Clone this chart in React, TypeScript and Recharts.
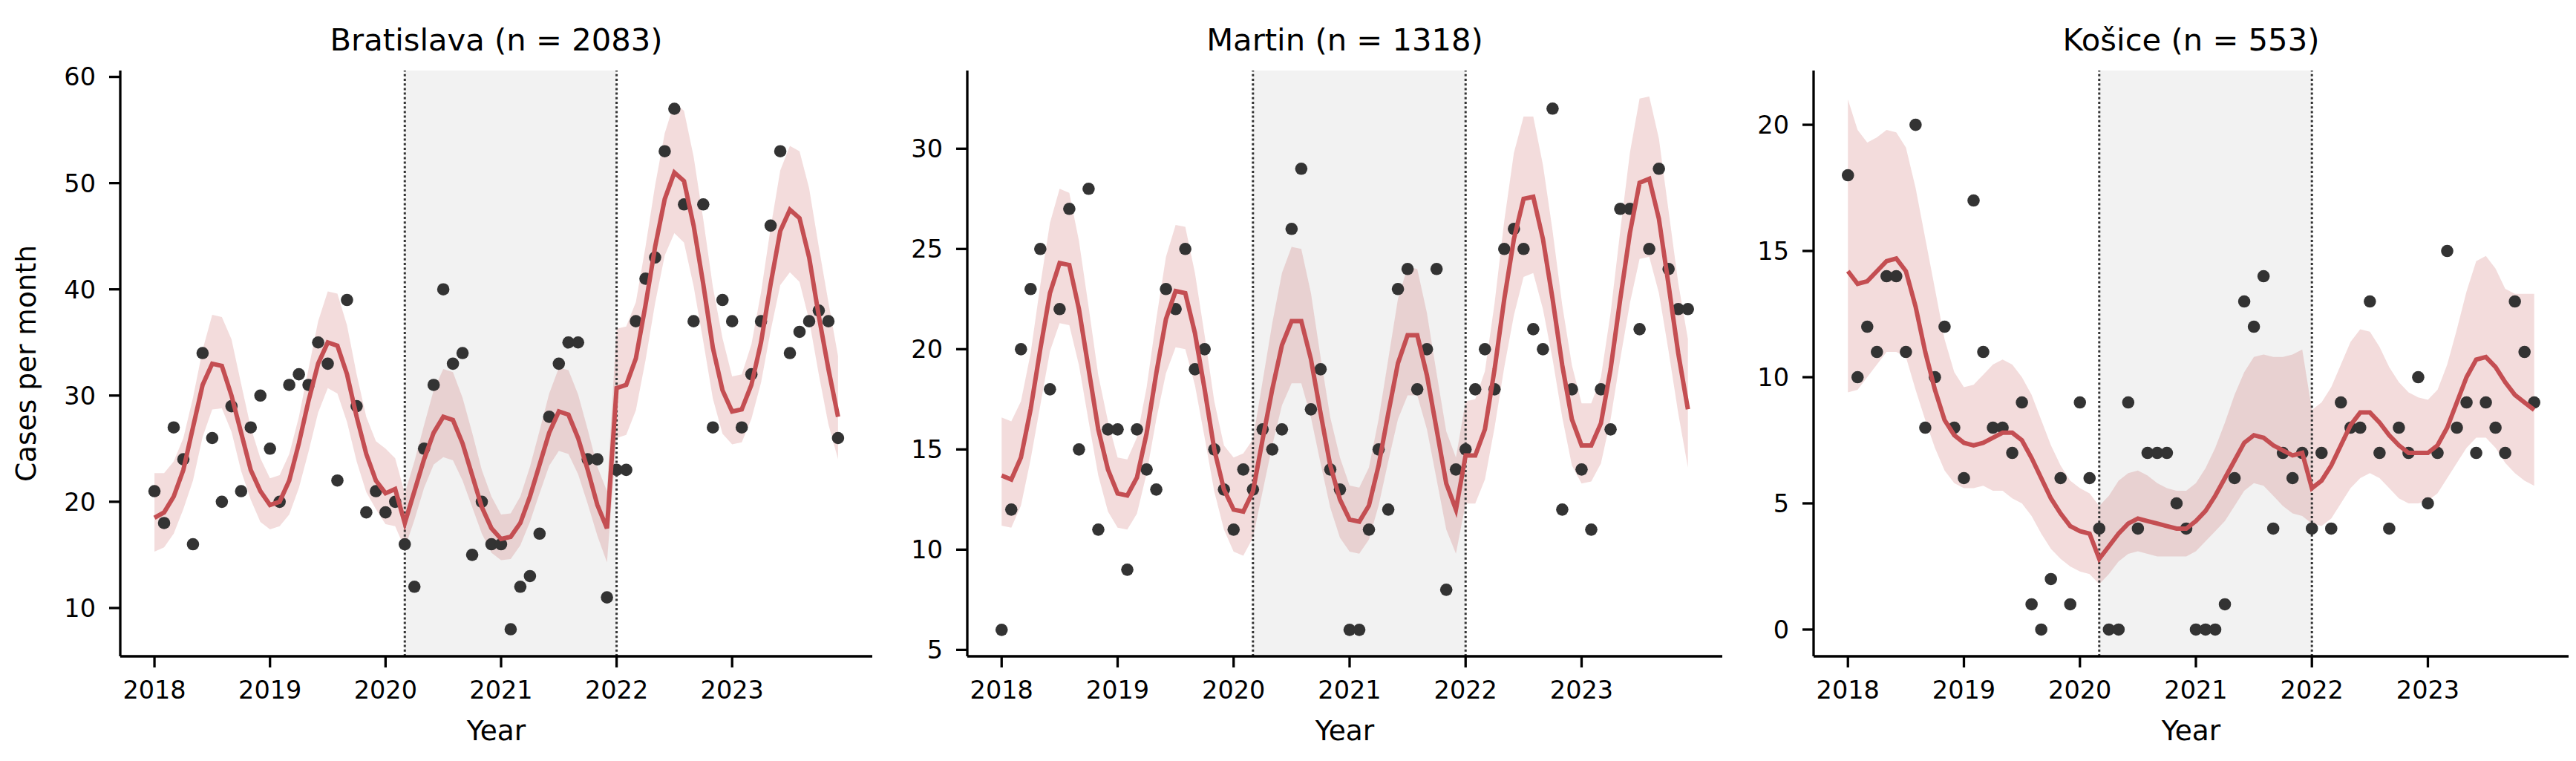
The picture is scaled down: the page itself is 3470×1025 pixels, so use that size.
import React from 'react';
import {
  ComposedChart,
  XAxis,
  YAxis,
  Line,
  Area,
  Scatter,
  ReferenceArea,
  ReferenceLine,
  Label,
} from 'recharts';

const FONT = '"DejaVu Sans", Verdana, sans-serif';
const RED = '#C44E52';

// categories: monthly observations Jan 2018 .. Dec 2023
const years = [2018, 2019, 2020, 2021, 2022, 2023];
const monthsOfYear = [0, 1, 2, 3, 4, 5, 6, 7, 8, 9, 10, 11];
const monthPositions = years.flatMap((y) => monthsOfYear.map((m) => y + m / 12));
const covidStart = 2020 + 2 / 12;
const covidEnd = 2022;

// ---- Bratislava ----
const bratislavaObs = [
  21, 18, 27, 24, 16, 34, 26, 20, 29, 21, 27, 30,
  25, 20, 31, 32, 31, 35, 33, 22, 39, 29, 19, 21,
  19, 20, 16, 12, 25, 31, 40, 33, 34, 15, 20, 16,
  16, 8, 12, 13, 17, 28, 33, 35, 35, 24, 24, 11,
  23, 23, 37, 41, 43, 53, 57, 48, 37, 48, 27, 39,
  37, 27, 32, 37, 46, 53, 34, 36, 37, 38, 37, 26,
];
const bratislavaFit = [
  18.5, 19, 20.5, 23, 27, 31, 33, 32.8, 30, 26.5, 23, 21,
  19.7, 20, 22, 25.5, 29.5, 33, 35, 34.7, 32, 28, 24.5, 22,
  20.8, 21.2, 18, 21, 24, 26.5, 28, 27.7, 25.5, 22.5, 19.5, 17.5,
  16.5, 16.7, 18, 20.5, 23.5, 26.5, 28.5, 28.2, 26, 23, 19.7, 17.5,
  30.7, 31, 33.5, 38.5, 44, 48.5, 51, 50.2, 46, 40.5, 34.5, 30.5,
  28.5, 28.7, 31, 35, 40.5, 45.5, 47.5, 46.7, 43, 37.5, 32.5, 28,
];
const bratislavaLow = [
  15.3, 15.7, 17, 19.3, 22, 26.1, 28.7, 28.8, 26.6, 22.9, 20.2, 18.1,
  17.4, 17.7, 18.8, 21.3, 24.7, 28.4, 30.7, 30.2, 27.5, 23.8, 20.9, 19.3,
  17.9, 17.7, 15.6, 18.3, 21.3, 23.5, 24.2, 23.9, 22, 19.5, 17, 15.2,
  14.5, 14.6, 15.9, 18.1, 20.8, 23.4, 24.8, 24.5, 22.6, 19.8, 16.8, 14.3,
  26, 26.3, 28.6, 33.3, 38.7, 43.2, 45.3, 44.4, 40.3, 35.1, 29.7, 26.4,
  25.4, 25.6, 27.8, 31.2, 36.1, 40.4, 41.6, 40.7, 37.1, 32, 27.3, 24,
];
const bratislavaHigh = [
  22.7, 22.7, 23.8, 26, 29.8, 34.3, 37.6, 37.4, 35.3, 31.1, 27, 24.1,
  22.2, 22.5, 24.5, 28, 32.5, 37, 39.8, 39.6, 36.6, 32, 28, 25.7,
  25, 24.1, 20.8, 23.8, 27.2, 30.5, 32.5, 32.2, 29.8, 26.5, 23, 20.5,
  18.8, 18.9, 20.5, 23.3, 26.7, 30.2, 32.6, 32.4, 30.1, 26.8, 23.3, 21,
  36.3, 36.5, 38.8, 44, 49.8, 54.7, 57.6, 56.8, 52.5, 46.6, 40.2, 35.4,
  31.8, 32, 34.8, 39.7, 45.8, 51.2, 53.5, 53, 49.5, 44, 38.8, 33.7,
];

// ---- Martin ----
const martinObs = [
  6, 12, 20, 23, 25, 18, 22, 27, 15, 28, 11, 16,
  16, 9, 16, 14, 13, 23, 22, 25, 19, 20, 15, 13,
  11, 14, 13, 16, 15, 16, 26, 29, 17, 19, 14, 13,
  6, 6, 11, 15, 12, 23, 24, 18, 20, 24, 8, 14,
  15, 18, 20, 18, 25, 26, 25, 21, 20, 32, 12, 18,
  14, 11, 18, 16, 27, 27, 21, 25, 29, 24, 22, 22,
];
const martinFit = [
  13.7, 13.5, 14.6, 17, 20, 22.8, 24.3, 24.2, 22, 19, 16, 14,
  12.8, 12.7, 13.6, 15.8, 18.8, 21.5, 22.9, 22.8, 20.8, 18, 15, 13,
  12, 11.9, 12.9, 15.5, 18, 20.2, 21.4, 21.4, 19.5, 16.8, 14.2, 12.5,
  11.5, 11.4, 12.2, 14.2, 16.8, 19.3, 20.7, 20.7, 18.7, 16, 13.3, 12,
  14.7, 14.7, 16, 19, 22.5, 25.5, 27.5, 27.6, 25.5, 22.5, 19.2, 16.5,
  15.2, 15.2, 16.3, 19, 22.5, 25.8, 28.3, 28.5, 26.5, 23.2, 19.8, 17,
];
const martinLow = [
  11.2, 11.1, 12.2, 14.5, 17.2, 19.9, 21.3, 21.2, 19.2, 16.4, 13.7, 11.9,
  11.1, 11, 11.8, 13.8, 16.5, 18.8, 20.1, 20, 18.2, 15.6, 12.9, 11,
  9.9, 9.7, 10.6, 12.9, 15.2, 17.2, 18.3, 18.3, 16.6, 14.3, 12.1, 10.6,
  9.9, 9.8, 10.5, 12.2, 14.4, 16.5, 17.7, 17.7, 16, 13.5, 11, 9.8,
  12.3, 12.3, 13.5, 16.1, 19.1, 21.7, 23.6, 23.8, 22, 19.5, 16.6, 14.2,
  13.3, 13.4, 14.3, 16.5, 19.5, 22.3, 24.5, 24.6, 22.8, 19.9, 16.8, 14.1,
];
const martinHigh = [
  16.6, 16.4, 17.4, 19.8, 23.2, 26.3, 28, 27.8, 25.4, 22.1, 18.7, 16.4,
  14.6, 14.5, 15.6, 18.1, 21.5, 24.6, 26.2, 26.1, 23.8, 20.7, 17.4, 15.2,
  14.6, 14.8, 15.5, 18.4, 21.3, 23.8, 25.1, 25, 22.8, 19.6, 16.6, 14.6,
  13.2, 13.1, 14.1, 16.5, 19.5, 22.5, 24.1, 24, 21.8, 18.8, 15.9, 14.6,
  17.4, 17.5, 18.9, 22.3, 26.4, 29.8, 31.6, 31.6, 29.2, 25.9, 22.2, 19.2,
  17.3, 17.3, 18.6, 21.8, 25.9, 29.8, 32.5, 32.6, 30.5, 26.9, 23.3, 20.5,
];

// ---- Košice ----
const kosiceObs = [
  18, 10, 12, 11, 14, 14, 11, 20, 8, 10, 12, 8,
  6, 17, 11, 8, 8, 7, 9, 1, 0, 2, 6, 1,
  9, 6, 4, 0, 0, 9, 4, 7, 7, 7, 5, 4,
  0, 0, 0, 1, 6, 13, 12, 14, 4, 7, 6, 7,
  4, 7, 4, 9, 8, 8, 13, 7, 4, 8, 7, 10,
  5, 7, 15, 8, 9, 7, 9, 8, 7, 13, 11, 9,
];
const kosiceFit = [
  14.2, 13.7, 13.8, 14.2, 14.6, 14.7, 14.2, 12.8, 11, 9.5, 8.3, 7.7,
  7.4, 7.3, 7.4, 7.6, 7.8, 7.8, 7.5, 6.8, 6, 5.2, 4.6, 4.1,
  3.9, 3.8, 2.8, 3.3, 3.8, 4.2, 4.4, 4.3, 4.2, 4.1, 4, 4,
  4.3, 4.7, 5.3, 6, 6.7, 7.4, 7.7, 7.6, 7.3, 7.1, 6.9, 7,
  5.6, 5.9, 6.5, 7.3, 8.1, 8.6, 8.6, 8.2, 7.7, 7.3, 7, 7,
  7, 7.3, 8, 9, 10, 10.7, 10.8, 10.4, 9.8, 9.3, 9, 8.7,
];
const kosiceLow = [
  9.4, 9.5, 10, 10.5, 11, 11, 10.8, 9.5, 8.3, 7.2, 6.3, 5.8,
  5.6, 5.6, 5.7, 5.5, 5.5, 5.2, 5, 4.5, 3.8, 3.2, 2.8, 2.5,
  2.3, 2.2, 1.8, 2.2, 2.7, 3, 3.1, 3, 2.9, 2.9, 2.9, 2.9,
  3.1, 3.5, 3.9, 4.3, 4.9, 5.5, 5.8, 5.7, 5.3, 4.9, 4.6, 4.5,
  4.2, 4.1, 4.4, 5, 5.6, 6, 6.2, 6, 5.6, 5.2, 5, 5,
  5.1, 5.4, 6, 6.6, 7.2, 7.6, 7.6, 7.2, 6.6, 6.2, 5.9, 5.7,
];
const kosiceHigh = [
  21, 19.8, 19.3, 19.5, 19.8, 19.7, 19.1, 17.5, 15.5, 13.5, 11.5, 10.2,
  9.6, 9.7, 10.1, 10.5, 10.7, 10.5, 10, 9.3, 8.3, 7.3, 6.5, 5.9,
  5.6, 5.4, 4.9, 5.3, 5.9, 6.2, 6.3, 6.1, 5.8, 5.6, 5.5, 5.5,
  5.8, 6.4, 7.2, 8.2, 9.3, 10.2, 10.8, 10.9, 10.8, 10.8, 10.9, 11.1,
  8.7, 9, 9.6, 10.5, 11.4, 11.9, 11.8, 11.2, 10.4, 9.8, 9.4, 9.2,
  9.1, 9.5, 10.5, 11.9, 13.4, 14.6, 14.8, 14.3, 13.5, 13.3, 13.3, 13.3,
];

// tick labels
const bratislavaTicks = [10, 20, 30, 40, 50, 60];
const martinTicks = [5, 10, 15, 20, 25, 30];
const kosiceTicks = [0, 5, 10, 15, 20];

function buildRows(obs: number[], fit: number[], low: number[], high: number[]) {
  return monthPositions.map((x, i) => ({ x, obs: obs[i], fit: fit[i], band: [low[i], high[i]] }));
}

const CHART_H = 1025;
const TOP = 95;
const PLOT_BOTTOM = 884;
const RIGHT_PAD = 10;

const DotShape = (props: any) => {
  if (props.cx == null || props.cy == null) return null;
  return <circle cx={props.cx} cy={props.cy} r={8.3} fill="#333333" />;
};

type PanelProps = {
  left: number;
  width: number;
  axisWidth: number;
  title: string;
  rows: any[];
  domain: [number, number];
  ticks: number[];
  yLabel?: string;
};

function Panel({ left, width, axisWidth, title, rows, domain, ticks, yLabel }: PanelProps) {
  const plotW = width - RIGHT_PAD - axisWidth;
  const centerX = axisWidth + plotW / 2;
  const axisStyle = { stroke: '#000', strokeWidth: 3.3 };
  const tickStyle = { fontSize: 33.5, fill: '#000', fontFamily: FONT };
  return (
    <div style={{ position: 'absolute', left, top: 0, width, height: CHART_H }}>
      <div
        style={{
          position: 'absolute',
          left: axisWidth,
          width: plotW,
          top: 33,
          textAlign: 'center',
          fontFamily: FONT,
          fontSize: 41.7,
          lineHeight: 1,
          color: '#000',
          whiteSpace: 'nowrap',
        }}
      >
        {title}
      </div>
      <ComposedChart
        width={width}
        height={CHART_H}
        data={rows}
        margin={{ top: TOP, right: RIGHT_PAD, bottom: 0, left: 0 }}
      >
        <ReferenceArea
          x1={covidStart}
          x2={covidEnd}
          fill="#808080"
          fillOpacity={0.1}
          stroke="none"
          ifOverflow="visible"
        />
        <Area
          dataKey="band"
          type="linear"
          stroke="none"
          fill={RED}
          fillOpacity={0.2}
          activeDot={false}
          isAnimationActive={false}
        />
        <ReferenceLine x={covidStart} stroke="#333" strokeWidth={3} strokeDasharray="3 3.2" />
        <ReferenceLine x={covidEnd} stroke="#333" strokeWidth={3} strokeDasharray="3 3.2" />
        <Scatter dataKey="obs" shape={DotShape} isAnimationActive={false} />
        <Line
          dataKey="fit"
          type="linear"
          stroke={RED}
          strokeWidth={6}
          dot={false}
          activeDot={false}
          isAnimationActive={false}
          zIndex={700}
        />
        <XAxis
          dataKey="x"
          type="number"
          domain={[2017.704, 2024.213]}
          ticks={years}
          allowDataOverflow
          interval={0}
          height={CHART_H - PLOT_BOTTOM}
          tickSize={15}
          tickMargin={18}
          axisLine={axisStyle}
          tickLine={axisStyle}
          tick={tickStyle}
        >
          <Label
            content={() => (
              <text x={centerX} y={997} textAnchor="middle" fontSize={37.5} fontFamily={FONT} fill="#000">
                Year
              </text>
            )}
          />
        </XAxis>
        <YAxis
          type="number"
          domain={domain}
          ticks={ticks}
          allowDataOverflow
          interval={0}
          width={axisWidth}
          tickSize={15}
          tickMargin={18}
          axisLine={axisStyle}
          tickLine={axisStyle}
          tick={tickStyle}
        >
          {yLabel ? (
            <Label
              content={() => (
                <text
                  x={0}
                  y={0}
                  transform={`translate(48, ${(TOP + PLOT_BOTTOM) / 2}) rotate(-90)`}
                  textAnchor="middle"
                  fontSize={37.5}
                  fontFamily={FONT}
                  fill="#000"
                >
                  {yLabel}
                </text>
              )}
            />
          ) : null}
        </YAxis>
      </ComposedChart>
    </div>
  );
}

export default function App() {
  return (
    <div style={{ position: 'absolute', left: 0, top: 0, width: 3470, height: CHART_H, background: '#fff' }}>
      <Panel
        left={0}
        width={1185}
        axisWidth={162}
        title="Bratislava (n = 2083)"
        rows={buildRows(bratislavaObs, bratislavaFit, bratislavaLow, bratislavaHigh)}
        domain={[5.45, 60.6]}
        ticks={bratislavaTicks}
        yLabel="Cases per month"
      />
      <Panel
        left={1190}
        width={1140}
        axisWidth={113}
        title="Martin (n = 1318)"
        rows={buildRows(martinObs, martinFit, martinLow, martinHigh)}
        domain={[4.68, 33.9]}
        ticks={martinTicks}
      />
      <Panel
        left={2335}
        width={1135}
        axisWidth={108}
        title="Košice (n = 553)"
        rows={buildRows(kosiceObs, kosiceFit, kosiceLow, kosiceHigh)}
        domain={[-1.06, 22.15]}
        ticks={kosiceTicks}
      />
    </div>
  );
}
